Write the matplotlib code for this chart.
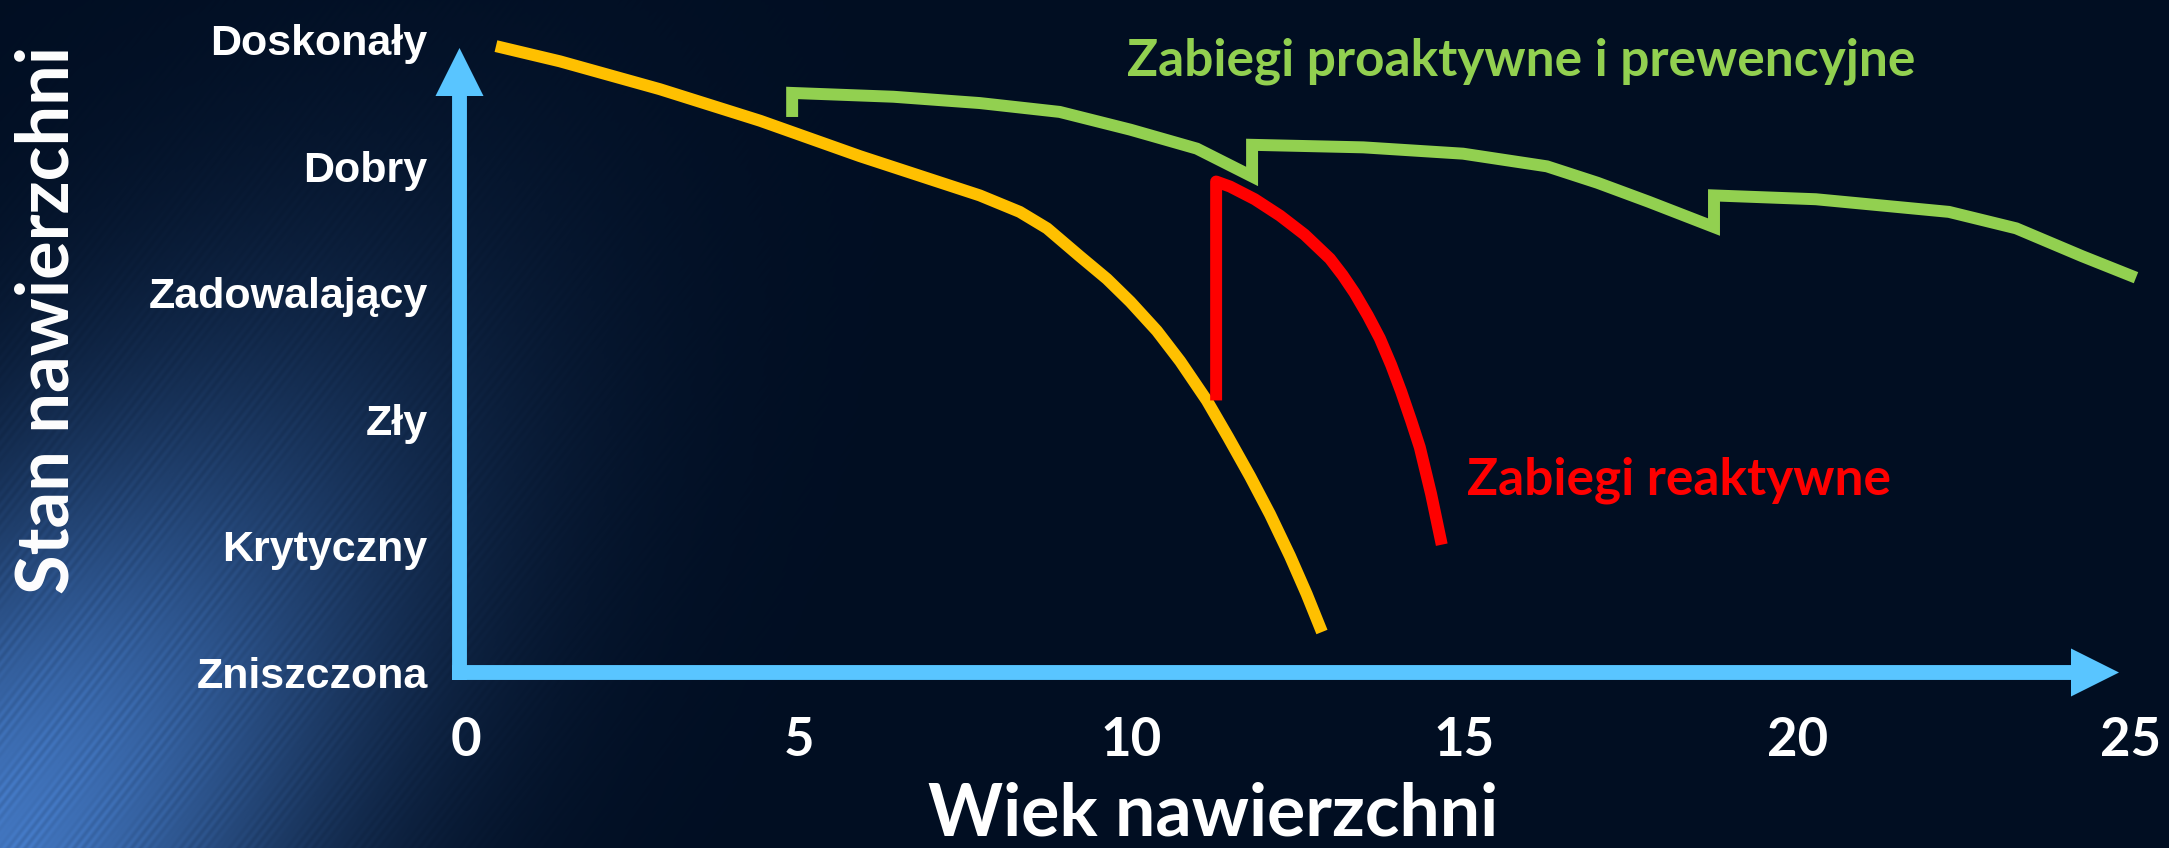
import numpy as np
import matplotlib
matplotlib.use("Agg")
import matplotlib.pyplot as plt

# --- data ---
cond_labels = ["Zniszczona", "Krytyczny", "Zły", "Zadowalający", "Dobry", "Doskonały"]
age_ticks = [0, 5, 10, 15, 20, 25]

# reactive-only curve (yellow)
yel_t = [0.45, 1.41, 2.91, 4.42, 5.92, 7.72, 8.32, 8.73, 9.22, 9.63, 9.98,
         10.38, 10.73, 11.13, 11.45, 11.78, 12.08, 12.38, 12.63, 12.86]
yel_L = [4.95, 4.83, 4.61, 4.36, 4.08, 3.77, 3.64, 3.51, 3.29, 3.11, 2.93,
         2.70, 2.46, 2.15, 1.86, 1.55, 1.25, 0.92, 0.62, 0.32]

# reactive treatment (red)
red_t = [11.27, 11.27, 11.48, 11.85, 12.23, 12.60, 12.98, 13.17, 13.35,
         13.55, 13.73, 13.90, 14.05, 14.20, 14.33, 14.50, 14.66]
red_L = [2.15, 3.88, 3.84, 3.74, 3.61, 3.46, 3.27, 3.14, 3.00,
         2.82, 2.64, 2.43, 2.22, 1.99, 1.78, 1.41, 1.01]

# proactive / preventive treatments (green)
grn_t = [4.90, 4.90, 6.42, 7.72, 8.92, 9.98, 10.98, 11.81, 11.81, 13.48, 14.98, 16.24,
         17.00, 17.77, 18.75, 18.75, 20.28, 22.28, 23.29, 24.28, 25.09]
grn_L = [4.39, 4.58, 4.55, 4.50, 4.43, 4.29, 4.14, 3.92, 4.17, 4.15, 4.10, 4.00,
         3.87, 3.72, 3.52, 3.77, 3.74, 3.64, 3.51, 3.29, 3.12]

W, H, DPI = 2169, 848, 100
fig = plt.figure(figsize=(W / DPI, H / DPI), dpi=DPI)

# background: dark navy with a soft blue glow from the lower left corner
yy, xx = np.mgrid[0:H, 0:W].astype(float)
ang = np.deg2rad(52)
dx, dy = xx + 40, H + 40 - yy
u = dx * np.cos(ang) + dy * np.sin(ang)
v = -dx * np.sin(ang) + dy * np.cos(ang)
glow = np.exp(-((u / 560) ** 2 + (v / 270) ** 2))
glow *= 1 + 0.08 * np.sin(v * 0.9) * np.sin(v * 0.07)
base = np.array([1, 14, 34]) / 255
hi = np.array([66, 118, 192]) / 255
img = base + glow[..., None] * (hi - base)
bg = fig.add_axes([0, 0, 1, 1], zorder=-1)
bg.imshow(np.clip(img, 0, 1), aspect="auto", interpolation="bilinear")
bg.axis("off")

# pixel mapping of the chart
x0_px, x_scale = 466, 66.56      # age 0 position, px per year
y0_px, y_scale = 676, 127.2      # condition 0 position, px per level
ax_left_px, ax_bot_px = 459.5, 672.5

ax = fig.add_axes([ax_left_px / W, (H - ax_bot_px) / H,
                   (W - ax_left_px) / W, ax_bot_px / H])
ax.set_facecolor("none")
ax.set_xlim((ax_left_px - x0_px) / x_scale, (W - x0_px) / x_scale)
ax.set_ylim((y0_px - ax_bot_px) / y_scale, y0_px / y_scale)
for s in ax.spines.values():
    s.set_visible(False)

lw = 8.6
ax.plot(yel_t, yel_L, color="#FFC000", lw=lw, solid_capstyle="butt", solid_joinstyle="round", clip_on=False)
ax.plot(red_t, red_L, color="#FF0000", lw=lw, solid_capstyle="butt", solid_joinstyle="round", clip_on=False)
ax.plot(grn_t, grn_L, color="#92D050", lw=lw, solid_capstyle="butt", solid_joinstyle="miter", clip_on=False)

# axis arrows
blue = "#59C5FF"
ax_w_px, ax_h_px = W - ax_left_px, ax_bot_px
half = 7.5
arrow = dict(arrowstyle="simple,head_length=1.0,head_width=1.0,tail_width=0.31",
             mutation_scale=48 * 72 / DPI, color=blue, lw=0, shrinkA=0, shrinkB=0)
ax.annotate("", xy=((2119 - ax_left_px) / ax_w_px, 0), xytext=(-half / ax_w_px, 0),
            xycoords="axes fraction", arrowprops=arrow, annotation_clip=False)
ax.annotate("", xy=(0, (ax_bot_px - 48) / ax_h_px), xytext=(0, -half / ax_h_px),
            xycoords="axes fraction", arrowprops=arrow, annotation_clip=False)

# ticks
ax.set_yticks(range(len(cond_labels)))
ax.set_yticklabels(cond_labels, family="Liberation Sans", fontweight="bold",
                   fontsize=31, color="white")
ax.set_xticks(age_ticks)
ax.set_xticklabels([str(a) for a in age_ticks], family="Lato", fontweight="bold",
                   fontsize=38, color="white")
ax.tick_params(axis="y", length=0, pad=23)
ax.tick_params(axis="x", length=0, pad=31)

# axis titles
fig.text(1213 / W, 1 - 836 / H, "Wiek nawierzchni", family="Lato", fontweight="bold",
         fontsize=51.5, color="white", ha="center", va="baseline")
fig.text(48 / W, 1 - 320 / H, "Stan nawierzchni", family="Lato", fontweight="bold",
         fontsize=52, color="white", ha="center", va="center", rotation=90)

# curve labels
ax.text(9.93, 4.72, "Zabiegi proaktywne i prewencyjne", family="Lato", fontweight="bold",
        fontsize=37, color="#92D050", ha="left", va="baseline")
ax.text(15.04, 1.41, "Zabiegi reaktywne", family="Lato", fontweight="bold",
        fontsize=37, color="#FF0000", ha="left", va="baseline")

fig.savefig("out.png", dpi=DPI)
